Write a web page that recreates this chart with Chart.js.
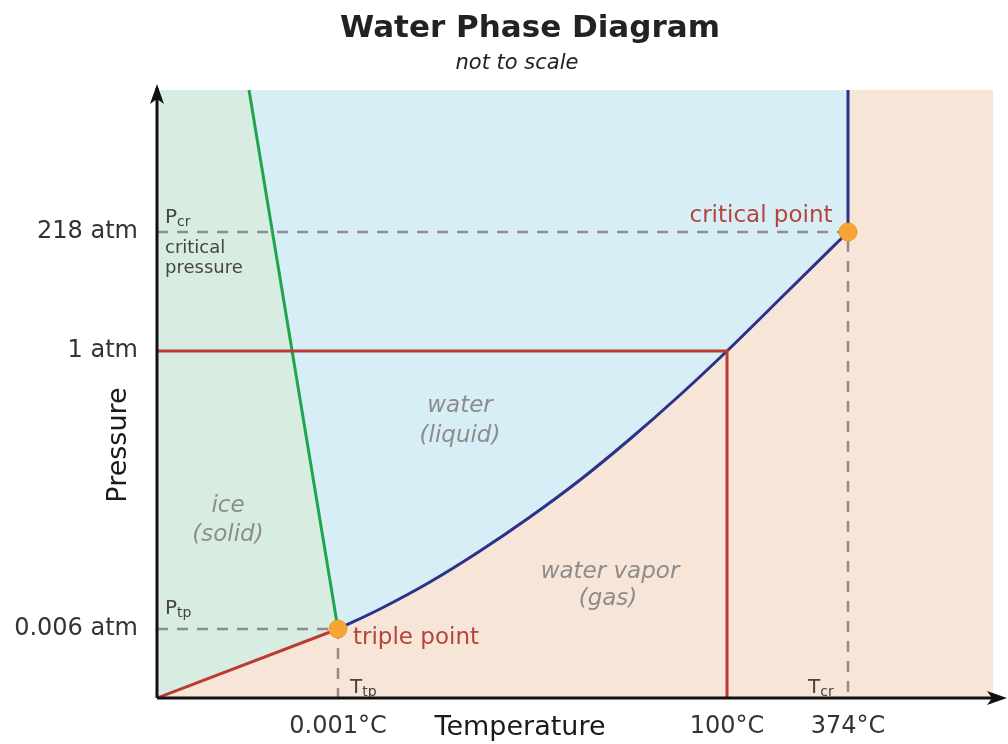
<!DOCTYPE html>
<html>
<head>
<meta charset="utf-8">
<title>Water Phase Diagram</title>
<script src="https://cdn.jsdelivr.net/npm/chart.js@4.4.1/dist/chart.umd.min.js"></script>
<style>
    html, body { margin: 0; padding: 0; background: #ffffff; }
    #wrap { width: 1008px; height: 744px; position: relative; }
</style>
</head>
<body>
<div id="wrap"><canvas id="phase"></canvas></div>
<script>
// Diagram is "not to scale": positions are in arbitrary diagram units
const T_MAX = 836;
const P_MAX = 608;

// Tick labels
const tempTickValues = [181, 570, 691];
const tempTickLabels = ['0.001°C', '100°C', '374°C'];
const pressureTickValues = [69, 347, 466];
const pressureTickLabels = ['0.006 atm', '1 atm', '218 atm'];

// Phase boundaries
const sublimationT = [0, 181];
const sublimationP = [0, 69];
const meltingT = [92, 181];
const meltingP = [608, 69];
const vaporT = [181, 223, 273, 323, 373, 423, 473, 523, 570, 631, 691];
const vaporP = [69, 89, 116, 147, 181, 218, 259, 303, 347, 407, 466];
const supercriticalT = [691, 691];
const supercriticalP = [466, 608];

// 1 atm reference (normal boiling point)
const oneAtmT = [0, 570, 570];
const oneAtmP = [347, 347, 0];

// Dashed guides to critical and triple points
const criticalGuideT = [0, 691, 691];
const criticalGuideP = [466, 466, 0];
const tripleGuideT = [0, 181, 181];
const tripleGuideP = [69, 69, 0];

// Marked points: triple point, critical point
const markerT = [181, 691];
const markerP = [69, 466];

const FONT = "'DejaVu Sans', 'Liberation Sans', sans-serif";
const COLORS = {
    ice: '#d8ede1',
    liquid: '#d8eef6',
    vapor: '#f7e5d8',
    green: '#1fa54e',
    blue: '#2c3289',
    red: '#bb3a32',
    dash: '#8d8d8d',
    marker: '#f6a434',
    label: '#b4453b',
    region: '#8c8c8c',
    text: '#333333',
};

const pts = (xs, ys) => xs.map((x, i) => ({ x: x, y: ys[i] }));

// Text placed in diagram units
const annotations = [
    { text: 'P', sub: 'cr', x: 8, y: 480, align: 'left', size: 20, color: '#444' },
    { text: 'critical', x: 8, y: 450, align: 'left', size: 18, color: '#444' },
    { text: 'pressure', x: 8, y: 430, align: 'left', size: 18, color: '#444' },
    { text: 'P', sub: 'tp', x: 8, y: 89, align: 'left', size: 20, color: '#444' },
    { text: 'T', sub: 'tp', x: 193, y: 10, align: 'left', size: 20, color: '#444' },
    { text: 'T', sub: 'cr', x: 651, y: 10, align: 'left', size: 20, color: '#444' },
    { text: 'critical point', x: 604, y: 482, align: 'center', size: 23, color: COLORS.label },
    { text: 'triple point', x: 196, y: 60, align: 'left', size: 23, color: COLORS.label },
    { text: 'water', x: 303, y: 292, align: 'center', size: 23, color: COLORS.region, italic: true },
    { text: '(liquid)', x: 303, y: 262, align: 'center', size: 23, color: COLORS.region, italic: true },
    { text: 'ice', x: 71, y: 192, align: 'center', size: 23, color: COLORS.region, italic: true },
    { text: '(solid)', x: 71, y: 163, align: 'center', size: 23, color: COLORS.region, italic: true },
    { text: 'water vapor', x: 453, y: 126, align: 'center', size: 23, color: COLORS.region, italic: true },
    { text: '(gas)', x: 451, y: 99, align: 'center', size: 23, color: COLORS.region, italic: true },
];

// Peach background = vapor / supercritical region
const backgroundPlugin = {
    id: 'phaseBackground',
    beforeDraw(chart) {
        const { ctx, chartArea: a } = chart;
        ctx.save();
        ctx.fillStyle = COLORS.vapor;
        ctx.fillRect(a.left, a.top, a.right - a.left, a.bottom - a.top);
        ctx.restore();
    }
};

const labelsPlugin = {
    id: 'phaseLabels',
    afterDatasetsDraw(chart) {
        const { ctx, scales } = chart;
        ctx.save();
        ctx.textBaseline = 'middle';
        annotations.forEach(a => {
            const px = scales.x.getPixelForValue(a.x);
            const py = scales.y.getPixelForValue(a.y);
            ctx.fillStyle = a.color;
            ctx.font = (a.italic ? 'italic ' : '') + a.size + 'px ' + FONT;
            ctx.textAlign = a.align;
            ctx.fillText(a.text, px, py);
            if (a.sub) {
                const w = ctx.measureText(a.text).width;
                ctx.textAlign = 'left';
                ctx.font = Math.round(a.size * 0.72) + 'px ' + FONT;
                ctx.fillText(a.sub, px + w, py + a.size * 0.22);
            }
        });
        ctx.restore();
    }
};

// Title block (slightly right of centre, as in the original figure)
const titlePlugin = {
    id: 'phaseTitle',
    afterDraw(chart) {
        const { ctx } = chart;
        ctx.save();
        ctx.fillStyle = '#222';
        ctx.textAlign = 'center';
        ctx.textBaseline = 'middle';
        ctx.font = 'bold 31px ' + FONT;
        ctx.fillText('Water Phase Diagram', 530, 29);
        ctx.font = 'italic 21px ' + FONT;
        ctx.fillText('not to scale', 517, 64);
        ctx.restore();
    }
};

// Arrowed axes and axis titles
const axesPlugin = {
    id: 'arrowAxes',
    afterDraw(chart) {
        const { ctx, chartArea: a } = chart;
        ctx.save();
        ctx.strokeStyle = '#111';
        ctx.fillStyle = '#111';
        ctx.lineWidth = 3;
        ctx.beginPath();
        ctx.moveTo(a.left, a.bottom);
        ctx.lineTo(1000, a.bottom);
        ctx.moveTo(a.left, a.bottom);
        ctx.lineTo(a.left, a.top - 2);
        ctx.stroke();
        // x arrow head
        ctx.beginPath();
        ctx.moveTo(1007, a.bottom);
        ctx.lineTo(987, a.bottom - 7);
        ctx.lineTo(992, a.bottom);
        ctx.lineTo(987, a.bottom + 7);
        ctx.closePath();
        ctx.fill();
        // y arrow head
        ctx.beginPath();
        ctx.moveTo(a.left, a.top - 6);
        ctx.lineTo(a.left - 7, a.top + 14);
        ctx.lineTo(a.left, a.top + 9);
        ctx.lineTo(a.left + 7, a.top + 14);
        ctx.closePath();
        ctx.fill();

        ctx.fillStyle = '#1a1a1a';
        ctx.font = '27px ' + FONT;
        ctx.textAlign = 'center';
        ctx.textBaseline = 'middle';
        ctx.fillText('Temperature', chart.scales.x.getPixelForValue(363), a.bottom + 30);
        ctx.translate(a.left - 38, chart.scales.y.getPixelForValue(253));
        ctx.rotate(-Math.PI / 2);
        ctx.fillText('Pressure', 0, 0);
        ctx.restore();
    }
};

const lineStyle = (color, width) => ({
    borderColor: color,
    borderWidth: width,
    pointRadius: 0,
    tension: 0,
    fill: false,
});

new Chart(document.getElementById('phase'), {
    type: 'line',
    data: {
        datasets: [
            {
                label: 'Triple / critical point',
                data: pts(markerT, markerP),
                showLine: false,
                pointRadius: 9,
                pointBackgroundColor: COLORS.marker,
                pointBorderColor: '#f09526',
                pointBorderWidth: 1,
                order: 0,
            },
            Object.assign({ label: '1 atm', data: pts(oneAtmT, oneAtmP), order: 1 }, lineStyle(COLORS.red, 3)),
            Object.assign({ label: 'Pcr guide', data: pts(criticalGuideT, criticalGuideP), borderDash: [11, 9], order: 2 }, lineStyle(COLORS.dash, 2.5)),
            Object.assign({ label: 'Ptp guide', data: pts(tripleGuideT, tripleGuideP), borderDash: [11, 9], order: 2 }, lineStyle(COLORS.dash, 2.5)),
            Object.assign({ label: 'Supercritical', data: pts(supercriticalT, supercriticalP), order: 3 }, lineStyle(COLORS.blue, 3)),
            {
                label: 'Vaporization (liquid)',
                data: pts(vaporT, vaporP),
                borderWidth: 3,
                borderColor: COLORS.blue,
                backgroundColor: COLORS.liquid,
                fill: 'end',
                pointRadius: 0,
                cubicInterpolationMode: 'monotone',
                order: 3,
            },
            {
                label: 'Melting (liquid)',
                data: pts(meltingT, meltingP),
                borderWidth: 3,
                borderColor: COLORS.green,
                backgroundColor: COLORS.liquid,
                fill: 'end',
                pointRadius: 0,
                order: 3,
            },
            {
                label: 'Sublimation (ice)',
                data: pts(sublimationT, sublimationP),
                borderWidth: 3,
                borderColor: COLORS.red,
                backgroundColor: COLORS.ice,
                fill: 'end',
                pointRadius: 0,
                order: 4,
            },
        ]
    },
    options: {
        responsive: true,
        maintainAspectRatio: false,
        animation: false,
        events: [],
        layout: { padding: { left: 0, right: 15, top: 90, bottom: 0 } },
        plugins: {
            legend: { display: false },
            tooltip: { enabled: false },
            title: { display: false },
        },
        scales: {
            x: {
                type: 'linear',
                min: 0,
                max: T_MAX,
                grid: { display: false },
                border: { display: false },
                afterBuildTicks: scale => { scale.ticks = tempTickValues.map(v => ({ value: v })); },
                afterFit: scale => { scale.height = 46; },
                ticks: {
                    autoSkip: false,
                    maxRotation: 0,
                    padding: 6,
                    color: COLORS.text,
                    font: { family: FONT, size: 24 },
                    callback: v => tempTickLabels[tempTickValues.indexOf(v)],
                },
            },
            y: {
                type: 'linear',
                min: 0,
                max: P_MAX,
                grid: { display: false },
                border: { display: false },
                afterBuildTicks: scale => { scale.ticks = pressureTickValues.map(v => ({ value: v })); },
                afterFit: scale => { scale.width = 157; },
                ticks: {
                    autoSkip: false,
                    padding: 11,
                    color: COLORS.text,
                    font: { family: FONT, size: 24 },
                    callback: v => pressureTickLabels[pressureTickValues.indexOf(v)],
                },
            },
        },
    },
    plugins: [backgroundPlugin, labelsPlugin, titlePlugin, axesPlugin],
});
</script>
</body>
</html>
